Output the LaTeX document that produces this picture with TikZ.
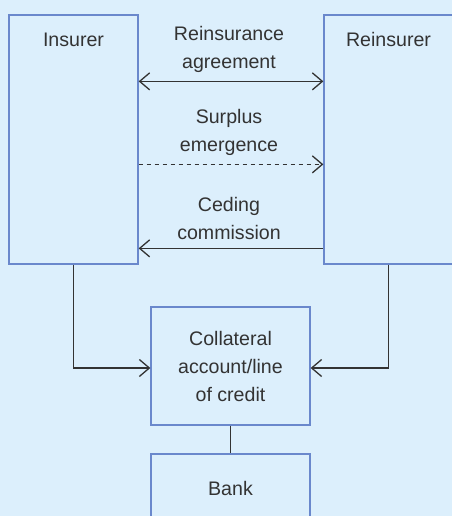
\documentclass[tikz,border=0pt]{standalone}
\usepackage{fontspec}
\setmainfont{Liberation Sans}
\usetikzlibrary{arrows.meta}
\definecolor{bgblue}{HTML}{DCEFFC}
\definecolor{boxblue}{HTML}{6A88CC}
\definecolor{linegray}{HTML}{333333}
\tikzstyle{party} = [rectangle, minimum width=64.5pt, minimum height=124.5pt, draw=boxblue, line width=0.65pt]
\tikzstyle{account} = [rectangle, minimum width=79.5pt, minimum height=59pt, text centered, align=center, draw=boxblue, line width=0.65pt]
\tikzstyle{arrow} = [draw=linegray, line width=0.65pt, ->, >={Straight Barb[length=5pt,width=8.5pt]}]
\tikzstyle{link} = [draw=linegray, line width=0.65pt]
\tikzstyle{flowlabel} = [above=0.6pt, xshift=-1pt, align=center, text=linegray]

\begin{document}
\begin{tikzpicture}[node distance = 157.5pt, font=\fontsize{9.8}{14}\selectfont, text=linegray]

\clip (0,0) rectangle (226pt,-258pt);
\fill[bgblue] (0,0) rectangle (226pt,-258pt);

\node(ins) [party, label={[anchor=north, inner sep=0pt, yshift=-9pt]north:Insurer}] at (36.75pt,-69.75pt) {};
\node(reins) [party, right of=ins, label={[anchor=north, inner sep=0pt, yshift=-9pt]north:Reinsurer}] {};
\node(coll) [account] at (115.25pt,-183pt) {Collateral\\account/line\\of credit};
\node(bank) [account, minimum height=34pt, below of=coll, node distance=61pt] {Bank};

\draw [arrow, <->] ([yshift=-33.5pt]ins.north east) -- node[flowlabel]{Reinsurance\\agreement} ([yshift=-33.5pt]reins.north west);
\draw [arrow, dash pattern=on 2.2pt off 1.8pt] ([yshift=-75pt]ins.north east) -- node[flowlabel]{Surplus\\emergence} ([yshift=-75pt]reins.north west);
\draw [arrow] ([yshift=-117pt]reins.north west) -- node[flowlabel]{Ceding\\commission} ([yshift=-117pt]ins.north east);
\draw [arrow] (ins.south) |- ([yshift=-1pt]coll.west);
\draw [arrow] (reins.south) |- ([yshift=-1pt]coll.east);
\draw [link] (coll) -- (bank);

\end{tikzpicture}
\end{document}
